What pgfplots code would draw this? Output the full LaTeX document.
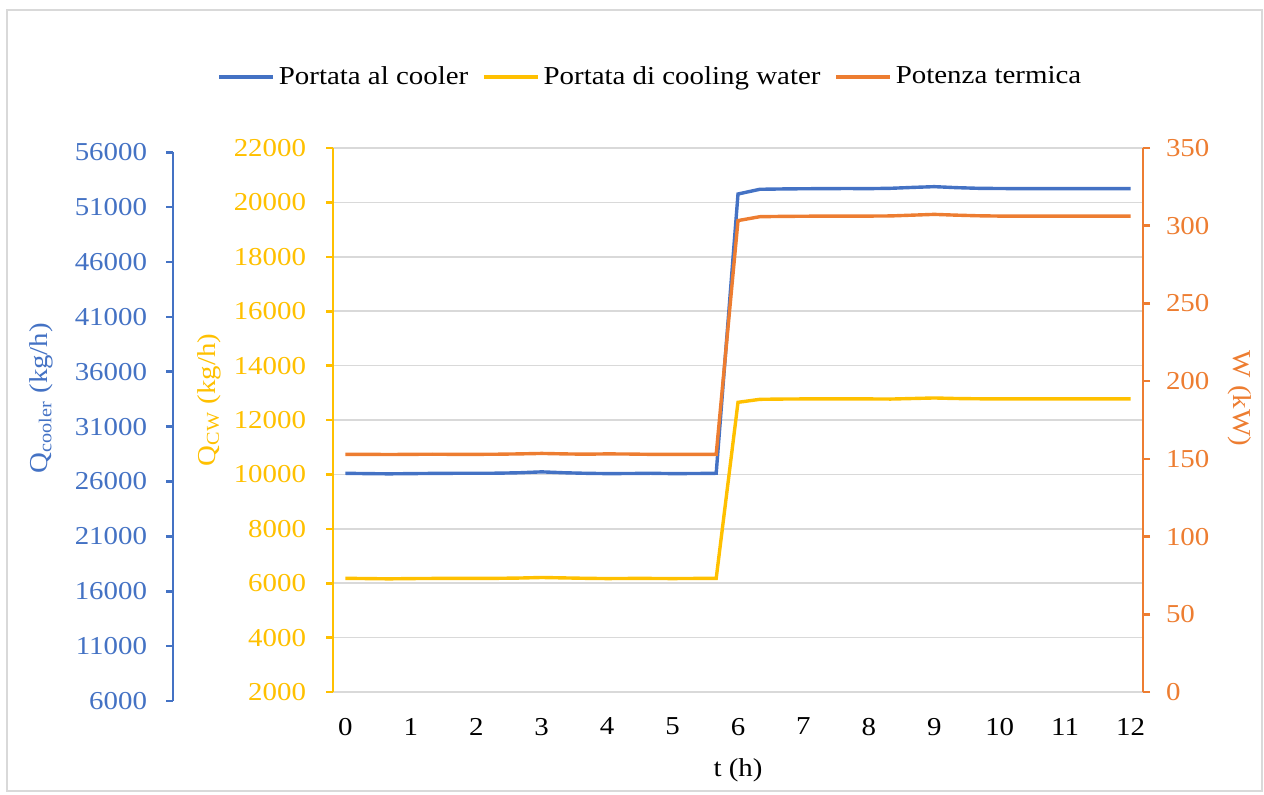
\documentclass[border=0pt]{standalone}
\usepackage{fontspec}
\setmainfont{Liberation Serif}[FakeStretch=1.12]
\usepackage{pgfplots}
\pgfplotsset{compat=1.18}
\usetikzlibrary{calc}

\definecolor{cblue}{HTML}{4472C4}
\definecolor{cyellow}{HTML}{FFC000}
\definecolor{corange}{HTML}{ED7D31}
\definecolor{cgrid}{HTML}{D9D9D9}

\pgfplotsset{
  base/.style={
    scale only axis, anchor=south west,
    scaled ticks=false,
    /pgf/number format/assume math mode=true,
    /pgf/number format/1000 sep={},
    tick align=outside, major tick length=3.5pt,
  },
  mainbox/.style={base, at={(166.5pt,51pt)}, width=405pt, height=272pt,
    xmin=-0.19, xmax=12.19},
}

\begin{document}
\fontsize{12.9}{15}\selectfont
\begin{tikzpicture}
\path[use as bounding box] (0,0) rectangle (632pt,397pt);
\draw[cgrid, line width=0.6pt] (3.5pt,1.5pt) rectangle (631pt,392pt);

% blue scale: axis line only
\begin{axis}[base, at={(86.5pt,46.5pt)}, width=1pt, height=274.35pt,
  xmin=0, xmax=1, ymin=6000, ymax=56000,
  ytick={6000,11000,...,56000},
  axis x line=none, axis y line*=left,
  y axis line style={cblue, line width=1.3pt},
  ytick style={cblue, line width=1.3pt},
  yticklabel style={cblue, xshift=-5pt},
  ylabel={Q\textsubscript{cooler} (kg/h)},
  ylabel style={cblue, at={($(rel axis cs:0,0.552)+(-66pt,0)$)}, anchor=center},
]
\end{axis}

% main: yellow left axis, grid, x axis
\begin{axis}[mainbox, ymin=2000, ymax=22000,
  ytick={2000,4000,...,22000}, xtick={0,...,12},
  axis y line*=left, axis x line*=bottom,
  x axis line style={cgrid, line width=0.8pt},
  xtick style={draw=none},
  xticklabel style={yshift=-5pt},
  y axis line style={cyellow, line width=1.3pt},
  ytick style={cyellow, line width=1.3pt},
  yticklabel style={cyellow, xshift=-5.5pt},
  ymajorgrids, major grid style={cgrid, line width=0.8pt},
  ylabel={Q\textsubscript{CW} (kg/h)},
  ylabel style={cyellow, at={($(rel axis cs:0,0.537)+(-62pt,0)$)}, anchor=center},
  xlabel={t (h)},
  xlabel style={at={($(rel axis cs:0.5,0)+(0,-39pt)$)}, anchor=center},
]
\addplot[cyellow, line width=1.7pt] coordinates {
(0,6180) (0.3333,6170) (0.6667,6160) (1,6170) (1.3333,6175) (1.6667,6175)
(2,6175) (2.3333,6180) (2.6667,6190) (3,6210) (3.3333,6195) (3.6667,6180)
(4,6170) (4.3333,6175) (4.6667,6175) (5,6170) (5.3333,6175) (5.6667,6175)
(6,12650) (6.3333,12760) (6.6667,12770) (7,12775) (7.3333,12775) (7.6667,12775)
(8,12775) (8.3333,12770) (8.6667,12790) (9,12810) (9.3333,12790) (9.6667,12780)
(10,12775) (10.3333,12775) (10.6667,12775) (11,12775) (11.3333,12775) (11.6667,12775)
(12,12775)
};
\end{axis}

% blue series on blue scale
\begin{axis}[base, at={(166.5pt,46.5pt)}, width=405pt, height=274.35pt,
  xmin=-0.19, xmax=12.19, ymin=6000, ymax=56000, hide axis]
\addplot[cblue, line width=1.7pt] coordinates {
(0,26750) (0.3333,26720) (0.6667,26700) (1,26720) (1.3333,26740) (1.6667,26750)
(2,26750) (2.3333,26760) (2.6667,26800) (3,26880) (3.3333,26800) (3.6667,26750)
(4,26720) (4.3333,26730) (4.6667,26750) (5,26720) (5.3333,26730) (5.6667,26750)
(6,52200) (6.3333,52630) (6.6667,52660) (7,52680) (7.3333,52690) (7.6667,52700)
(8,52690) (8.3333,52720) (8.6667,52800) (9,52870) (9.3333,52780) (9.6667,52720)
(10,52700) (10.3333,52690) (10.6667,52690) (11,52690) (11.3333,52690) (11.6667,52690)
(12,52690)
};
\end{axis}

% orange right axis
\begin{axis}[mainbox, ymin=0, ymax=350, ytick={0,50,...,350},
  axis y line*=right, axis x line=none,
  y axis line style={corange, line width=1.3pt},
  ytick style={corange, line width=1.3pt},
  yticklabel style={corange, xshift=3.5pt},
  ylabel={W (kW)},
  ylabel style={corange, rotate=180, at={($(rel axis cs:1,0.54)+(48.5pt,0)$)}, anchor=center},
  legend columns=3,
  legend style={draw=none, fill=none, at={(0.393,1.1305)}, anchor=center,
    /tikz/every even column/.append style={column sep=5pt}},
  legend image code/.code={\draw[#1] (0pt,0pt) -- (27pt,0pt);},
]
\addlegendimage{cblue, line width=1.7pt}
\addlegendentry{Portata al cooler}
\addlegendimage{cyellow, line width=1.7pt}
\addlegendentry{Portata di cooling water}
\addplot[corange, line width=1.7pt] coordinates {
(0,152.9) (0.3333,152.9) (0.6667,152.8) (1,152.9) (1.3333,153.0) (1.6667,152.9)
(2,152.9) (2.3333,153.0) (2.6667,153.2) (3,153.5) (3.3333,153.2) (3.6667,153.0)
(4,153.2) (4.3333,153.1) (4.6667,152.9) (5,152.9) (5.3333,152.9) (5.6667,152.9)
(6,303.3) (6.3333,305.8) (6.6667,306.0) (7,306.1) (7.3333,306.2) (7.6667,306.2)
(8,306.2) (8.3333,306.3) (8.6667,306.8) (9,307.3) (9.3333,306.8) (9.6667,306.4)
(10,306.2) (10.3333,306.2) (10.6667,306.2) (11,306.2) (11.3333,306.2) (11.6667,306.2)
(12,306.2)
};
\addlegendentry{Potenza termica}
\end{axis}
\end{tikzpicture}
\end{document}
